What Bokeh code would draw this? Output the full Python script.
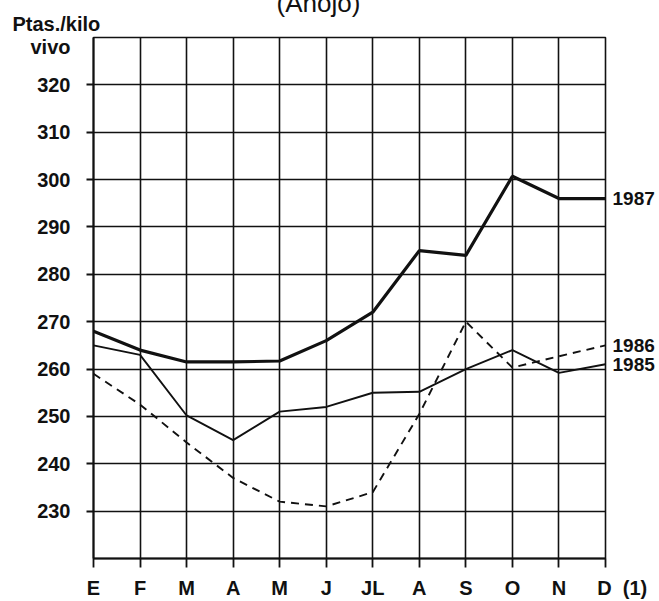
from bokeh.plotting import figure
from bokeh.models import Range1d, FixedTicker, LinearAxis, Title
from bokeh.embed import file_html
from bokeh.resources import INLINE

months = ["E", "F", "M", "A", "M", "J", "JL", "A", "S", "O", "N", "D"]
last_month_note = "(1)"
y_ticks = [230, 240, 250, 260, 270, 280, 290, 300, 310, 320]
s1987 = [268, 264, 261.5, 261.5, 261.7, 266, 272, 285, 284, 300.7, 296, 296]
s1986 = [259, 252.5, 244.5, 237, 232, 231, 234, 250.5, 270, 260.3, 262.7, 265]
s1985 = [265, 263, 250.2, 245, 251, 252, 255, 255.2, 260, 264, 259.2, 261]
series_names = ["1987", "1986", "1985"]
unit_top, unit_bottom = "Ptas./kilo", "vivo"
title_text = "(Añojo)"

W, H = 659, 601
BL, BR, BT, BB = 93, 54, 37, 42

INK = "#111111"
TF = "Liberation Sans"

p = figure(width=W, height=H, output_backend="svg", toolbar_location=None,
           x_range=Range1d(0, 11), y_range=Range1d(220, 330),
           min_border_left=BL, min_border_right=BR, min_border_top=BT,
           min_border_bottom=BB, background_fill_color="white",
           border_fill_color="white")
p.outline_line_color = INK
p.outline_line_width = 1.6

xs = list(range(len(months)))
FS = "\u2007"
NB = "\u00a0"
x_labels = list(months)
x_labels[-1] = FS * 3 + months[-1] + NB * 2 + last_month_note
p.xaxis.ticker = FixedTicker(ticks=xs)
p.xaxis.major_label_overrides = {i: m for i, m in enumerate(x_labels)}
p.yaxis.ticker = FixedTicker(ticks=y_ticks)
p.xgrid.ticker = FixedTicker(ticks=xs)
p.ygrid.ticker = FixedTicker(ticks=y_ticks + [330])
for g in (p.xgrid, p.ygrid):
    g.grid_line_color = INK
    g.grid_line_width = 1.6
    g.grid_line_alpha = 1.0

for ax in (p.xaxis, p.yaxis):
    ax.axis_line_color = INK
    ax.axis_line_width = 2
    ax.major_tick_line_color = INK
    ax.major_tick_line_width = 1.8
    ax.minor_tick_line_color = None
    ax.major_tick_in = 0
    ax.major_label_text_font = TF
    ax.major_label_text_font_style = "bold"
    ax.major_label_text_font_size = "20px"
    ax.major_label_text_color = INK

p.yaxis.major_tick_out = 7
p.yaxis.major_label_standoff = 16
p.xaxis.major_tick_out = 9
p.xaxis.major_label_standoff = 9


def text_axis(ticks, names, standoff, size="20px"):
    a = LinearAxis(ticker=FixedTicker(ticks=ticks),
                   major_label_overrides={v: n for v, n in zip(ticks, names)})
    a.axis_line_color = None
    a.major_tick_line_color = None
    a.minor_tick_line_color = None
    a.major_tick_in = 0
    a.major_tick_out = 0
    a.major_label_standoff = standoff
    a.major_label_text_font = TF
    a.major_label_text_font_style = "bold"
    a.major_label_text_font_size = size
    a.major_label_text_color = INK
    return a


# series names on a right-hand axis, at each series' last value
last_vals = [s1987[-1], s1986[-1], s1985[-1]]
p.add_layout(text_axis(last_vals, series_names, 7, "19px"), "right")

# second line of the unit label, on an outer left axis pulled back in
p.add_layout(text_axis([328], [unit_bottom], -36), "left")

p.line(xs, s1986, line_color=INK, line_width=1.9, line_dash="8 6")
p.line(xs, s1985, line_color=INK, line_width=1.9)
p.line(xs, s1987, line_color=INK, line_width=3.2)

# chart title (top cut by the page edge, as in the source)
p.title.text = title_text
p.title.align = "left"
p.title.offset = 183
p.title.vertical_align = "top"
p.title.standoff = -25
p.title.text_font = TF
p.title.text_font_style = "normal"
p.title.text_font_size = "26px"
p.title.text_color = INK

# unit label, nearest the frame, shifted left over the axis
p.add_layout(Title(text=unit_top, align="left", offset=-81, standoff=6,
                   text_font=TF, text_font_style="bold",
                   text_font_size="20px", text_color=INK), "above")

open("out.html", "w").write(file_html(p, INLINE))
